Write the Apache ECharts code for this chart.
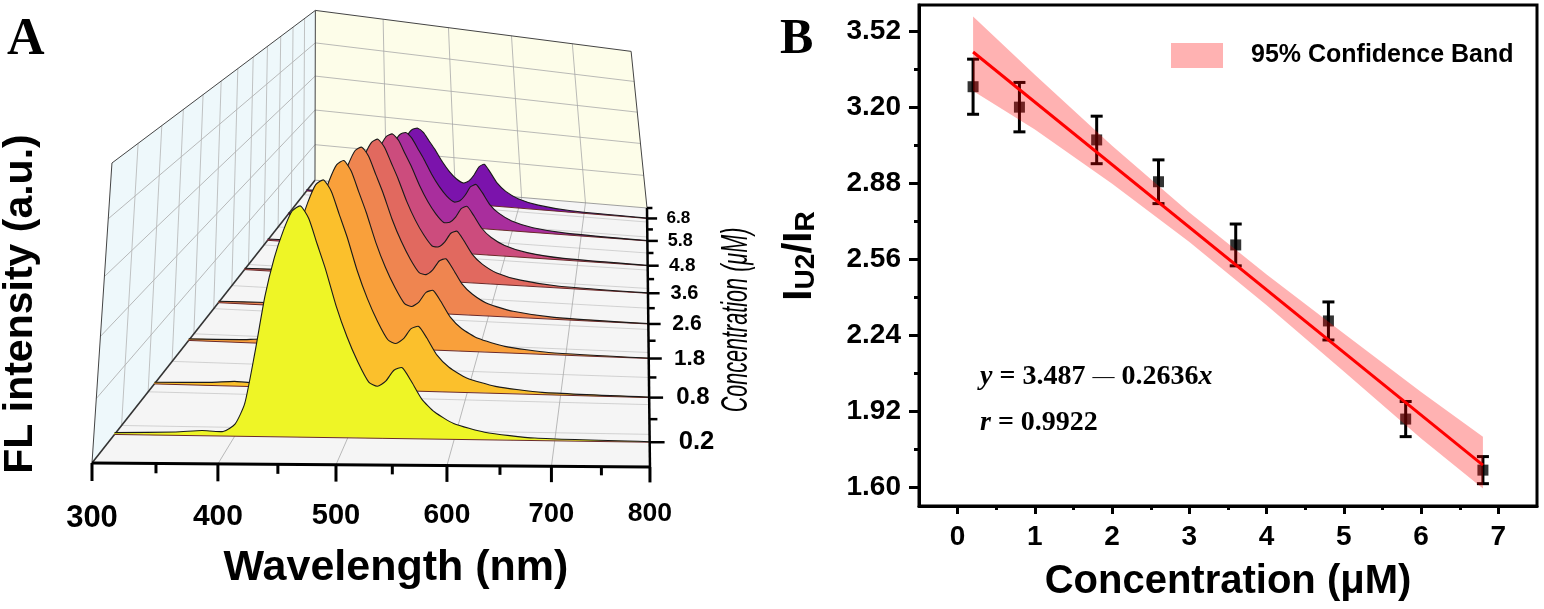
<!DOCTYPE html>
<html>
<head>
<meta charset="utf-8">
<script src="https://cdn.jsdelivr.net/npm/echarts@6/dist/echarts.min.js"></script>
<style>
  html, body { margin: 0; padding: 0; background: #fff; }
  #chart { width: 1544px; height: 609px; }
</style>
</head>
<body>
<div id="chart"></div>
<script>
// ---------- Panel A: FL spectra (waterfall) ----------
const wavelength = [300, 350, 372, 390, 400, 408, 416, 424, 432, 440, 448, 456, 464, 472, 480, 490, 500, 510, 520, 528, 536, 544, 552, 560, 570, 582, 600, 630, 680, 800];
const fl_02 = [0.006, 0.011, 0.017, 0.015, 0.040, 0.110, 0.286, 0.486, 0.629, 0.732, 0.809, 0.832, 0.786, 0.692, 0.599, 0.464, 0.354, 0.265, 0.195, 0.181, 0.200, 0.240, 0.250, 0.205, 0.140, 0.095, 0.056, 0.027, 0.009, 0.002];
const fl_08 = [0.006, 0.011, 0.017, 0.015, 0.039, 0.108, 0.281, 0.477, 0.617, 0.718, 0.794, 0.816, 0.771, 0.679, 0.588, 0.455, 0.347, 0.260, 0.192, 0.179, 0.199, 0.239, 0.249, 0.205, 0.140, 0.095, 0.056, 0.027, 0.009, 0.002];
const fl_18 = [0.006, 0.011, 0.017, 0.015, 0.038, 0.104, 0.270, 0.459, 0.593, 0.691, 0.763, 0.785, 0.741, 0.653, 0.565, 0.438, 0.334, 0.251, 0.186, 0.176, 0.197, 0.238, 0.248, 0.204, 0.139, 0.094, 0.056, 0.027, 0.009, 0.002];
const fl_26 = [0.006, 0.011, 0.017, 0.015, 0.037, 0.098, 0.253, 0.430, 0.557, 0.648, 0.716, 0.736, 0.695, 0.612, 0.530, 0.411, 0.314, 0.236, 0.177, 0.170, 0.193, 0.235, 0.247, 0.203, 0.138, 0.094, 0.055, 0.027, 0.009, 0.002];
const fl_36 = [0.006, 0.011, 0.017, 0.015, 0.034, 0.090, 0.230, 0.390, 0.504, 0.587, 0.648, 0.667, 0.630, 0.555, 0.480, 0.372, 0.284, 0.215, 0.164, 0.162, 0.188, 0.232, 0.244, 0.201, 0.137, 0.093, 0.055, 0.027, 0.009, 0.002];
const fl_48 = [0.006, 0.011, 0.017, 0.015, 0.031, 0.080, 0.203, 0.344, 0.445, 0.518, 0.572, 0.588, 0.556, 0.489, 0.424, 0.329, 0.251, 0.191, 0.150, 0.153, 0.182, 0.228, 0.242, 0.199, 0.136, 0.092, 0.055, 0.026, 0.009, 0.002];
const fl_58 = [0.006, 0.011, 0.017, 0.015, 0.028, 0.068, 0.170, 0.287, 0.371, 0.431, 0.476, 0.490, 0.463, 0.408, 0.353, 0.274, 0.210, 0.161, 0.132, 0.141, 0.175, 0.223, 0.238, 0.197, 0.134, 0.091, 0.054, 0.026, 0.009, 0.002];
const fl_68 = [0.006, 0.011, 0.017, 0.014, 0.025, 0.058, 0.143, 0.241, 0.311, 0.361, 0.399, 0.410, 0.388, 0.342, 0.296, 0.230, 0.176, 0.137, 0.117, 0.132, 0.169, 0.219, 0.236, 0.195, 0.133, 0.090, 0.054, 0.026, 0.009, 0.002];
const concLabels = ['0.2', '0.8', '1.8', '2.6', '3.6', '4.8', '5.8', '6.8'];
const wlTicks = [300, 400, 500, 600, 700, 800];

// ---------- Panel B: ratio vs concentration ----------
const conc = [0.2, 0.8, 1.8, 2.6, 3.6, 4.8, 5.8, 6.8];
const ratio = [3.288, 3.202, 3.064, 2.888, 2.622, 2.302, 1.889, 1.674];
const ratioErr = [0.116, 0.104, 0.100, 0.092, 0.088, 0.080, 0.074, 0.057];
const fitX = [0.2, 6.8];
const fitY = [3.434, 1.695];
const bandX = [0.2, 1.0, 2.0, 3.0, 4.0, 5.0, 6.0, 6.8];
const bandUpper = [3.584, 3.338, 3.040, 2.758, 2.498, 2.249, 2.003, 1.815];
const bandLower = [3.270, 3.108, 2.880, 2.634, 2.368, 2.089, 1.807, 1.597];
const yTicks = [1.60, 1.92, 2.24, 2.56, 2.88, 3.20, 3.52];
const xTicks = [0, 1, 2, 3, 4, 5, 6, 7];

const spectra = [fl_02, fl_08, fl_18, fl_26, fl_36, fl_48, fl_58, fl_68];
const fillColors = ['#eef526', '#fbc02c', '#f9a03b', '#ef8550', '#e1695f', '#cc4c7d', '#a92e9d', '#7b13ac'];
const SANS = 'Liberation Sans';
const SERIF = 'Liberation Serif';

// perspective view of the 3D box: X = wavelength (0..1), Z = depth (0..1), Y = height (0..1)
function project(X, Z, Y) {
  const w = 1 + 0.1656 * X + 0.682 * Z + 0.095 * Y;
  return {
    x: (92 + 665.6 * X + 437.8 * Z + 30.6 * Y) / w,
    y: (463 + 81.3 * X - 160 * Z - 284.5 * Y) / w,
    w: w
  };
}
const wlToX = wl => (wl - 300) / 500;
const depth = i => (2 * i + 1) / 16;

function lineEl(a, b, color, width) {
  return { type: 'line', shape: { x1: a[0], y1: a[1], x2: b[0], y2: b[1] }, style: { stroke: color, lineWidth: width } };
}

function renderFrame(params, api) {
  const pt = (X, Z, Y) => { const p = project(X, Z, Y); return api.coord([p.x, p.y]); };
  const children = [];
  const poly = (pts, fill) => children.push({ type: 'polygon', shape: { points: pts.map(q => pt(q[0], q[1], q[2])) }, style: { fill: fill } });
  const seg = (a, b, color, width) => children.push(lineEl(pt(a[0], a[1], a[2]), pt(b[0], b[1], b[2]), color, width));

  poly([[0, 0, 0], [0, 1, 0], [0, 1, 1], [0, 0, 1]], '#eef8fb');
  poly([[0, 1, 0], [1, 1, 0], [1, 1, 1], [0, 1, 1]], '#fdfde9');
  poly([[0, 0, 0], [1, 0, 0], [1, 1, 0], [0, 1, 0]], '#f5f5f5');

  for (let k = 1; k <= 4; k++) {
    const Y = k / 5;
    seg([0, 0, Y], [0, 1, Y], '#a8a8a8', 0.8);
    seg([0, 1, Y], [1, 1, Y], '#a8a8a8', 0.8);
  }
  for (let k = 1; k <= 11; k++) {
    const Z = k / 12;
    seg([0, Z, 0], [0, Z, 1], '#b4b4b4', 0.8);
    seg([0, Z, 0], [1, Z, 0], '#c8c8c8', 0.8);
  }
  for (let k = 1; k <= 4; k++) {
    const X = k / 5;
    seg([X, 1, 0], [X, 1, 1], '#a8a8a8', 0.8);
    seg([X, 0, 0], [X, 1, 0], '#a8a8a8', 0.8);
  }
  seg([0, 0, 0], [0, 0, 1], '#444', 1);
  seg([0, 0, 1], [0, 1, 1], '#444', 1);
  seg([0, 1, 1], [0, 1, 0], '#444', 1);
  seg([0, 1, 1], [1, 1, 1], '#444', 1);
  seg([1, 1, 1], [1, 1, 0], '#444', 1);
  seg([0, 1, 0], [1, 1, 0], '#888', 0.8);
  seg([0, 0, 0], [0, 1, 0], '#333', 1.6);
  return { type: 'group', children: children };
}

function makeSpectrum(i) {
  return function (params, api) {
    if (params.dataIndexInside !== 0) return null;
    const Z = depth(i);
    const n = params.dataInsideLength;
    const top = [], base = [];
    for (let j = 0; j < n; j++) {
      const X = wlToX(api.value(0, j));
      const p = project(X, Z, api.value(1, j));
      const b = project(X, Z, 0);
      top.push(api.coord([p.x, p.y]));
      base.push(api.coord([b.x, b.y]));
    }
    return {
      type: 'group',
      children: [
        { type: 'polygon', shape: { points: top.concat(base.slice().reverse()), smooth: 0.2 }, style: { fill: fillColors[i] } },
        lineEl(base[0], base[n - 1], '#6b2a2a', 1),
        { type: 'polyline', shape: { points: top, smooth: 0.2 }, style: { stroke: '#1a1a1a', lineWidth: 1.1, fill: null } }
      ]
    };
  };
}

function renderAxesA(params, api) {
  const children = [];
  const c = (x, y) => api.coord([x, y]);
  const o = project(0, 0, 0), fr = project(1, 0, 0), br = project(1, 1, 0);
  children.push(lineEl(c(o.x, o.y), c(fr.x, fr.y), '#000', 3));
  children.push(lineEl(c(fr.x, fr.y), c(br.x, br.y), '#000', 2.5));

  // wavelength ticks (major on tick values, minor halfway)
  wlTicks.forEach((wl, k) => {
    const p = project(wlToX(wl), 0, 0);
    children.push(lineEl(c(p.x, p.y), c(p.x, p.y + 18 / p.w), '#000', 3));
    const pos = c(p.x, p.y + 55 / p.w);
    children.push({ type: 'text', x: pos[0], y: pos[1], style: { text: String(wl), fontSize: 31 / p.w, fontWeight: 'bold', fontFamily: SANS, fill: '#000', align: 'center', verticalAlign: 'middle' } });
    if (k < wlTicks.length - 1) {
      const m = project(wlToX((wl + wlTicks[k + 1]) / 2), 0, 0);
      children.push(lineEl(c(m.x, m.y), c(m.x, m.y + 10 / m.w), '#000', 3));
    }
  });

  // concentration ticks + labels on the right edge
  for (let k = 1; k <= 8; k++) {
    const m = project(1, k / 8, 0);
    children.push(lineEl(c(m.x, m.y), c(m.x + 10 / m.w, m.y), '#000', 2.5));
  }
  concLabels.forEach((lab, i) => {
    const p = project(1, depth(i), 0);
    children.push(lineEl(c(p.x, p.y), c(p.x + 18 / p.w, p.y), '#000', 2.5));
    const pos = c(p.x + 35 / p.w, p.y);
    children.push({ type: 'text', x: pos[0], y: pos[1], style: { text: lab, fontSize: 31 / p.w, fontWeight: 'bold', fontFamily: SANS, fill: '#000', align: 'left', verticalAlign: 'middle' } });
  });
  return { type: 'group', children: children };
}

function renderErrorBar(params, api) {
  const x = api.value(0);
  const lo = api.coord([x, api.value(1)]);
  const hi = api.coord([x, api.value(2)]);
  const cap = 6;
  return {
    type: 'group',
    children: [
      lineEl(lo, hi, '#000', 3),
      lineEl([hi[0] - cap, hi[1]], [hi[0] + cap, hi[1]], '#000', 3),
      lineEl([lo[0] - cap, lo[1]], [lo[0] + cap, lo[1]], '#000', 3)
    ]
  };
}

function renderBand(params, api) {
  if (params.dataIndexInside !== 0) return null;
  const n = params.dataInsideLength;
  const up = [], low = [];
  for (let j = 0; j < n; j++) {
    up.push(api.coord([api.value(0, j), api.value(2, j)]));
    low.push(api.coord([api.value(0, j), api.value(1, j)]));
  }
  return { type: 'polygon', shape: { points: up.concat(low.reverse()) }, style: { fill: 'rgba(255,0,0,0.3)' } };
}

const axisFont = { fontFamily: SANS, fontWeight: 'bold', fontSize: 28, color: '#000' };

const series = [
  { type: 'custom', name: 'frame', xAxisIndex: 2, yAxisIndex: 2, data: [[0, 0]], renderItem: renderFrame, z: 1, silent: true }
];
for (let i = spectra.length - 1; i >= 0; i--) {
  series.push({
    type: 'custom', name: 'C' + concLabels[i], xAxisIndex: 2, yAxisIndex: 2,
    data: wavelength.map((w, j) => [w, spectra[i][j]]),
    encode: { x: 0, y: 1 },
    renderItem: makeSpectrum(i), z: 2, silent: true
  });
}
series.push({ type: 'custom', name: 'axesA', xAxisIndex: 2, yAxisIndex: 2, data: [[0, 0]], renderItem: renderAxesA, z: 3, silent: true });

series.push(
  {
    type: 'custom', name: 'errors', xAxisIndex: 0, yAxisIndex: 0,
    data: conc.map((c, j) => [c, ratio[j] - ratioErr[j], ratio[j] + ratioErr[j]]),
    encode: { x: 0, y: [1, 2] }, renderItem: renderErrorBar, z: 2
  },
  {
    type: 'scatter', name: 'data', xAxisIndex: 0, yAxisIndex: 0,
    data: conc.map((c, j) => [c, ratio[j]]),
    symbol: 'rect', symbolSize: 11, itemStyle: { color: '#000' }, z: 2
  },
  {
    type: 'custom', name: '95% Confidence Band', xAxisIndex: 0, yAxisIndex: 0,
    data: bandX.map((x, j) => [x, bandLower[j], bandUpper[j]]),
    encode: { x: 0, y: [1, 2] }, renderItem: renderBand,
    itemStyle: { color: 'rgba(255,0,0,0.3)' }, z: 3
  },
  {
    type: 'line', name: 'fit', xAxisIndex: 0, yAxisIndex: 0,
    data: fitX.map((x, j) => [x, fitY[j]]),
    symbol: 'none', lineStyle: { color: '#ff0000', width: 3 }, z: 4
  }
);

const option = {
  animation: false,
  backgroundColor: '#fff',
  grid: [
    { left: 919, right: 7, top: 5, bottom: 103, show: true, borderColor: '#000', borderWidth: 3 },
    { left: 0, top: 0, width: 760, height: 609, show: false }
  ],
  legend: {
    data: [{ name: '95% Confidence Band', icon: 'rect' }],
    left: 1171, top: 43, padding: 0, itemWidth: 52, itemHeight: 25, selectedMode: false,
    textStyle: { fontFamily: SANS, fontWeight: 'bold', fontSize: 25, color: '#000', padding: [0, 0, 0, 23] }
  },
  xAxis: [
    {
      gridIndex: 0, type: 'value', min: -0.5, max: 7.5,
      axisLine: { onZero: false, lineStyle: { color: '#000', width: 3 } },
      axisTick: { customValues: xTicks, length: 8, lineStyle: { color: '#000', width: 3 } },
      axisLabel: Object.assign({ customValues: xTicks, margin: 17 }, axisFont),
      splitLine: { show: false },
      name: 'Concentration (μM)', nameLocation: 'middle', nameGap: 56,
      nameTextStyle: { fontFamily: SANS, fontWeight: 'bold', fontSize: 40, color: '#000' }
    },
    {
      gridIndex: 0, type: 'value', min: -0.5, max: 7.5, position: 'bottom',
      axisLine: { show: false },
      axisTick: { customValues: [0.5, 1.5, 2.5, 3.5, 4.5, 5.5, 6.5], length: 4, lineStyle: { color: '#000', width: 3 } },
      axisLabel: { show: false }, splitLine: { show: false }
    },
    { gridIndex: 1, type: 'value', min: 0, max: 760, show: false }
  ],
  yAxis: [
    {
      gridIndex: 0, type: 'value', min: 1.523, max: 3.632,
      axisLine: { show: true, onZero: false, lineStyle: { color: '#000', width: 3 } },
      axisTick: { show: true, customValues: yTicks, length: 10, lineStyle: { color: '#000', width: 3 } },
      axisLabel: Object.assign({ customValues: yTicks, margin: 18, formatter: v => v.toFixed(2) }, axisFont),
      splitLine: { show: false }
    },
    {
      gridIndex: 0, type: 'value', min: 1.523, max: 3.632, position: 'left',
      axisLine: { show: false, onZero: false },
      axisTick: { show: true, customValues: [1.76, 2.08, 2.40, 2.72, 3.04, 3.36], length: 5, lineStyle: { color: '#000', width: 3 } },
      axisLabel: { show: false }, splitLine: { show: false }
    },
    { gridIndex: 1, type: 'value', min: 0, max: 609, inverse: true, show: false }
  ],
  graphic: [
    { type: 'text', x: 7, y: 41, style: { text: 'A', fontSize: 52, fontWeight: 'bold', fontFamily: SERIF, fill: '#000', verticalAlign: 'middle' } },
    { type: 'text', x: 780, y: 40, style: { text: 'B', fontSize: 50, fontWeight: 'bold', fontFamily: SERIF, fill: '#000', verticalAlign: 'middle' } },
    { type: 'text', x: 21, y: 304, rotation: Math.PI / 2, style: { text: 'FL intensity (a.u.)', fontSize: 41, fontWeight: 'bold', fontFamily: SANS, fill: '#000', align: 'center', verticalAlign: 'middle' } },
    { type: 'text', x: 396, y: 568, style: { text: 'Wavelength (nm)', fontSize: 43, fontWeight: 'bold', fontFamily: SANS, fill: '#000', align: 'center', verticalAlign: 'middle' } },
    { type: 'text', x: 737, y: 320, rotation: Math.PI / 2, scaleX: 0.6, style: { text: 'Concentration (μM)', fontSize: 36, fontStyle: 'italic', fontFamily: SANS, fill: '#000', align: 'center', verticalAlign: 'middle' } },
    {
      type: 'text', x: 800, y: 256, rotation: Math.PI / 2,
      style: {
        text: '{m|I}{s|U2}{m|/I}{s|R}', align: 'center', verticalAlign: 'middle', fill: '#000',
        rich: {
          m: { fontSize: 40, fontWeight: 'bold', fontFamily: SANS, lineHeight: 40, verticalAlign: 'top', fill: '#000' },
          s: { fontSize: 28, fontWeight: 'bold', fontFamily: SANS, lineHeight: 28, padding: [22, 0, 0, 0], verticalAlign: 'bottom', fill: '#000' }
        }
      }
    },
    {
      type: 'text', x: 980, y: 377,
      style: {
        text: '{i|y} = 3.487 {d|—} 0.2636{i|x}', fontSize: 28, fontWeight: 'bold', fontFamily: SERIF, fill: '#000', verticalAlign: 'middle',
        rich: {
          i: { fontSize: 28, fontWeight: 'bold', fontStyle: 'italic', fontFamily: SERIF, fill: '#000' },
          d: { fontSize: 22, fontWeight: 'normal', fontFamily: SERIF, fill: '#000' }
        }
      }
    },
    {
      type: 'text', x: 980, y: 423,
      style: {
        text: '{i|r} = 0.9922', fontSize: 28, fontWeight: 'bold', fontFamily: SERIF, fill: '#000', verticalAlign: 'middle',
        rich: { i: { fontSize: 28, fontWeight: 'bold', fontStyle: 'italic', fontFamily: SERIF, fill: '#000' } }
      }
    }
  ],
  series: series
};

const chart = echarts.init(document.getElementById('chart'));
chart.setOption(option);
window.addEventListener('resize', () => chart.resize());
</script>
</body>
</html>
